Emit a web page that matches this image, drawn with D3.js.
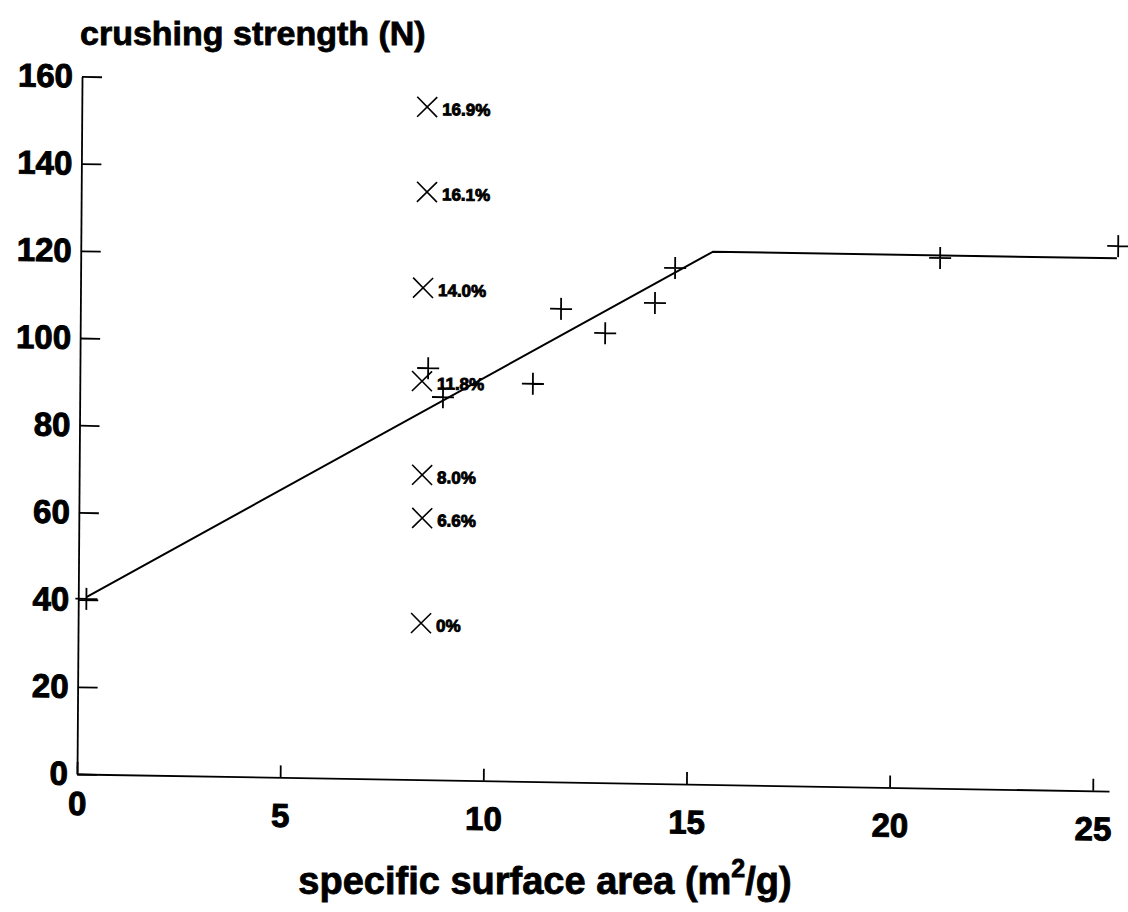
<!DOCTYPE html>
<html>
<head>
<meta charset="utf-8">
<script src="https://cdn.jsdelivr.net/npm/d3@7"></script>
<style>
  body { margin: 0; background: #fff; }
  text { font-family: "Liberation Sans", Arial, sans-serif; font-weight: bold; fill: #000; }
</style>
</head>
<body>
<div id="chart"></div>
<script>
// crushing strength vs specific surface area (scanned figure)

// + points : pellets without additive
var plusX = [0.2, 8.57, 8.94, 11.15, 11.83, 12.92, 14.14, 14.63, 21.15, 25.53];
var plusY = [40.2, 94.4, 87.8, 91.2, 108.5, 103.1, 110.2, 118.3, 121.6, 125.0];

// x points : with additive, labelled by content
var crossX = [8.50, 8.51, 8.43, 8.42, 8.44, 8.45, 8.44];
var crossY = [154.3, 134.8, 112.8, 91.4, 69.9, 60.0, 35.9];
var crossLabels = ['16.9%', '16.1%', '14.0%', '11.8%', '8.0%', '6.6%', '0%'];

// fitted line
var lineX = [0.2, 15.56, 25.5];
var lineY = [40.6, 122.2, 122.2];

var xTicks = [0, 5, 10, 15, 20, 25];
var yTicks = [0, 20, 40, 60, 80, 100, 120, 140, 160];

var w = 1128;
var h = 912;
var ox = 77, oy = 774;

var svg = d3.select('#chart')
            .append('svg')
            .attr('width', w)
            .attr('height', h);

// the scan is a little tilted, so the plot group gets a slight skew
var g = svg.append('g')
           .attr('transform', 'translate(' + ox + ',' + oy + ') matrix(1,0.0165,-0.0072,1,0,0)');

var xscale = d3.scaleLinear()
               .domain([0, 25.4])
               .range([0, 25.4 * 40.63]);

var yscale = d3.scaleLinear()
               .domain([0, 160])
               .range([0, -697.6]);

var xaxis = d3.axisBottom(xscale)
              .tickValues(xTicks)
              .tickFormat(d3.format('d'))
              .tickSizeInner(-12)
              .tickSizeOuter(0)
              .tickPadding(26);

var yaxis = d3.axisLeft(yscale)
              .tickValues(yTicks)
              .tickFormat(d3.format('d'))
              .tickSizeInner(-20)
              .tickSizeOuter(0)
              .tickPadding(9);

var gx = g.append('g').call(xaxis);
var gy = g.append('g').call(yaxis);

[gx, gy].forEach(function(a) {
    a.selectAll('path, line').attr('stroke', '#000').attr('stroke-width', 1.8);
    a.selectAll('text')
     .style('font-family', '"Liberation Sans", Arial, sans-serif')
     .style('font-weight', 'bold')
     .style('font-size', '33px')
     .attr('fill', '#000')
     .attr('stroke', '#000')
     .attr('stroke-width', 1);
});
gx.select('.tick text').attr('dy', '0.45em');

// fitted line
var line = d3.line()
             .x(function(d) { return xscale(d[0]); })
             .y(function(d) { return yscale(d[1]); });

g.append('path')
 .datum(d3.zip(lineX, lineY))
 .attr('d', line)
 .attr('fill', 'none')
 .attr('stroke', '#000')
 .attr('stroke-width', 2);

// + markers
g.selectAll('.plus')
 .data(d3.zip(plusX, plusY))
 .enter()
 .append('path')
 .attr('class', 'plus')
 .attr('transform', function(d) { return 'translate(' + xscale(d[0]) + ',' + yscale(d[1]) + ')'; })
 .attr('d', 'M-11,0H11M0,-11V11')
 .attr('stroke', '#000')
 .attr('stroke-width', 1.8)
 .attr('fill', 'none');

// x markers
var crosses = g.selectAll('.cross')
               .data(d3.range(crossX.length))
               .enter()
               .append('g')
               .attr('class', 'cross')
               .attr('transform', function(i) { return 'translate(' + xscale(crossX[i]) + ',' + yscale(crossY[i]) + ')'; });

crosses.append('path')
       .attr('d', 'M-10,-10L10,10M-10,10L10,-10')
       .attr('stroke', '#000')
       .attr('stroke-width', 1.6)
       .attr('fill', 'none');

crosses.append('text')
       .attr('x', 15)
       .attr('y', 8)
       .style('font-size', '17px')
       .attr('stroke', '#000')
       .attr('stroke-width', 0.9)
       .text(function(i) { return crossLabels[i]; });

// axis titles
svg.append('text')
   .attr('x', 80)
   .attr('y', 45)
   .style('font-size', '34px')
   .attr('stroke', '#000')
   .attr('stroke-width', 0.8)
   .text('crushing strength (N)');

var xt = svg.append('text')
            .attr('x', 545)
            .attr('y', 894)
            .attr('text-anchor', 'middle')
            .style('font-size', '38px')
            .attr('stroke', '#000')
            .attr('stroke-width', 0.8);
xt.append('tspan').text('specific surface area (m');
xt.append('tspan').attr('dy', -17).style('font-size', '25px').text('2');
xt.append('tspan').attr('dy', 17).text('/g)');
</script>
</body>
</html>
